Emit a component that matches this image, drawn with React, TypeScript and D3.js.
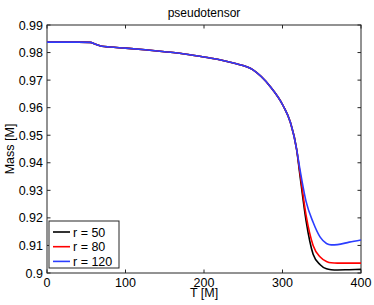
import { useRef, useEffect } from 'react';
import * as d3 from 'd3';

// time samples (shared early part) and mass values
const T_COMMON = [0, 20, 40, 55, 62, 70, 80, 100, 125, 150, 175, 200, 220, 240, 262, 284, 301, 310, 318];
const M_COMMON = [0.9838, 0.9838, 0.9838, 0.9837, 0.9830, 0.9823, 0.9820, 0.9816, 0.9810, 0.9803, 0.9795, 0.9784, 0.9774, 0.9760, 0.9738, 0.9678, 0.9606, 0.9547, 0.9449];

const T_TAIL = [322, 330, 339, 348, 356, 362, 370, 385, 400];
const M_R50 = [0.9360, 0.9190, 0.9068, 0.9030, 0.9015, 0.9012, 0.9011, 0.9012, 0.9013];
const M_R80 = [0.9370, 0.9210, 0.9100, 0.9058, 0.9042, 0.9037, 0.9036, 0.9036, 0.9036];
const M_R120 = [0.9380, 0.9260, 0.9184, 0.9130, 0.9107, 0.9102, 0.9103, 0.9112, 0.9120];

const SERIES = [
  { label: 'r = 50', color: '#000000', tail: M_R50 },
  { label: 'r = 80', color: '#ff0000', tail: M_R80 },
  { label: 'r = 120', color: '#2b3dff', tail: M_R120 },
];

const X_TICKS = [0, 100, 200, 300, 400];
const Y_TICKS = [0.9, 0.91, 0.92, 0.93, 0.94, 0.95, 0.96, 0.97, 0.98, 0.99];

const W = 374, H = 305;
const M = { left: 47, right: 13, top: 25, bottom: 32 };
const FONT = 'Liberation Sans, Arial, sans-serif';

export default function App() {
  const ref = useRef<SVGSVGElement>(null);

  useEffect(() => {
    if (!ref.current) return;
    const svg = d3.select(ref.current);
    svg.selectAll('*').remove();

    const x = d3.scaleLinear().domain([0, 400]).range([M.left, W - M.right]);
    const y = d3.scaleLinear().domain([0.9, 0.99]).range([H - M.bottom, M.top]);

    svg.append('rect').attr('width', W).attr('height', H).attr('fill', 'white');

    const g = svg.append('g');

    // plot frame
    g.append('rect')
      .attr('x', x(0)).attr('y', y(0.99))
      .attr('width', x(400) - x(0)).attr('height', y(0.9) - y(0.99))
      .attr('fill', 'none').attr('stroke', '#262626').attr('stroke-width', 1);

    const tl = 3.5;
    // x ticks (inward, top and bottom)
    X_TICKS.forEach(t => {
      g.append('line').attr('x1', x(t)).attr('x2', x(t)).attr('y1', y(0.9)).attr('y2', y(0.9) - tl).attr('stroke', '#262626');
      g.append('line').attr('x1', x(t)).attr('x2', x(t)).attr('y1', y(0.99)).attr('y2', y(0.99) + tl).attr('stroke', '#262626');
      g.append('text').attr('x', x(t)).attr('y', y(0.9) + 14)
        .attr('text-anchor', 'middle').attr('font-family', FONT).attr('font-size', 12.5)
        .text(String(t));
    });
    Y_TICKS.forEach(v => {
      g.append('line').attr('x1', x(0)).attr('x2', x(0) + tl).attr('y1', y(v)).attr('y2', y(v)).attr('stroke', '#262626');
      g.append('line').attr('x1', x(400)).attr('x2', x(400) - tl).attr('y1', y(v)).attr('y2', y(v)).attr('stroke', '#262626');
      g.append('text').attr('x', x(0) - 4).attr('y', y(v) + 4.5)
        .attr('text-anchor', 'end').attr('font-family', FONT).attr('font-size', 12.5)
        .text(v === 0.9 ? '0.9' : v.toFixed(2));
    });

    // curves
    const line = d3.line<[number, number]>()
      .x(d => x(d[0])).y(d => y(d[1]))
      .curve(d3.curveMonotoneX);

    SERIES.forEach(s => {
      const pts: [number, number][] = [
        ...T_COMMON.map((t, i) => [t, M_COMMON[i]] as [number, number]),
        ...T_TAIL.map((t, i) => [t, s.tail[i]] as [number, number]),
      ];
      g.append('path').datum(pts)
        .attr('d', line)
        .attr('fill', 'none').attr('stroke', s.color).attr('stroke-width', 1.6);
    });

    // labels
    svg.append('text').attr('x', (x(0) + x(400)) / 2).attr('y', 17)
      .attr('text-anchor', 'middle').attr('font-family', FONT).attr('font-size', 12)
      .text('pseudotensor');
    svg.append('text').attr('x', (x(0) + x(400)) / 2).attr('y', 297)
      .attr('text-anchor', 'middle').attr('font-family', FONT).attr('font-size', 12.5)
      .text('T [M]');
    svg.append('text').attr('transform', `translate(14, ${(y(0.9) + y(0.99)) / 2}) rotate(-90)`)
      .attr('text-anchor', 'middle').attr('font-family', FONT).attr('font-size', 12.5)
      .text('Mass [M]');

    // legend
    const lg = svg.append('g').attr('transform', 'translate(49, 221)');
    lg.append('rect').attr('width', 70).attr('height', 47)
      .attr('fill', 'white').attr('stroke', '#262626').attr('stroke-width', 1);
    SERIES.forEach((s, i) => {
      const yy = 11 + i * 14.7;
      lg.append('line').attr('x1', 4).attr('x2', 21).attr('y1', yy).attr('y2', yy)
        .attr('stroke', s.color).attr('stroke-width', 1.6);
      lg.append('text').attr('x', 24).attr('y', yy + 4.5)
        .attr('font-family', FONT).attr('font-size', 12.5)
        .text(s.label);
    });
  }, []);

  return (
    <div style={{ position: 'fixed', left: 0, top: 0, width: W, height: H, overflow: 'hidden' }}>
      <style>{`body { margin: 0; overflow: hidden; }`}</style>
      <svg ref={ref} width={W} height={H} style={{ display: 'block' }} />
    </div>
  );
}
